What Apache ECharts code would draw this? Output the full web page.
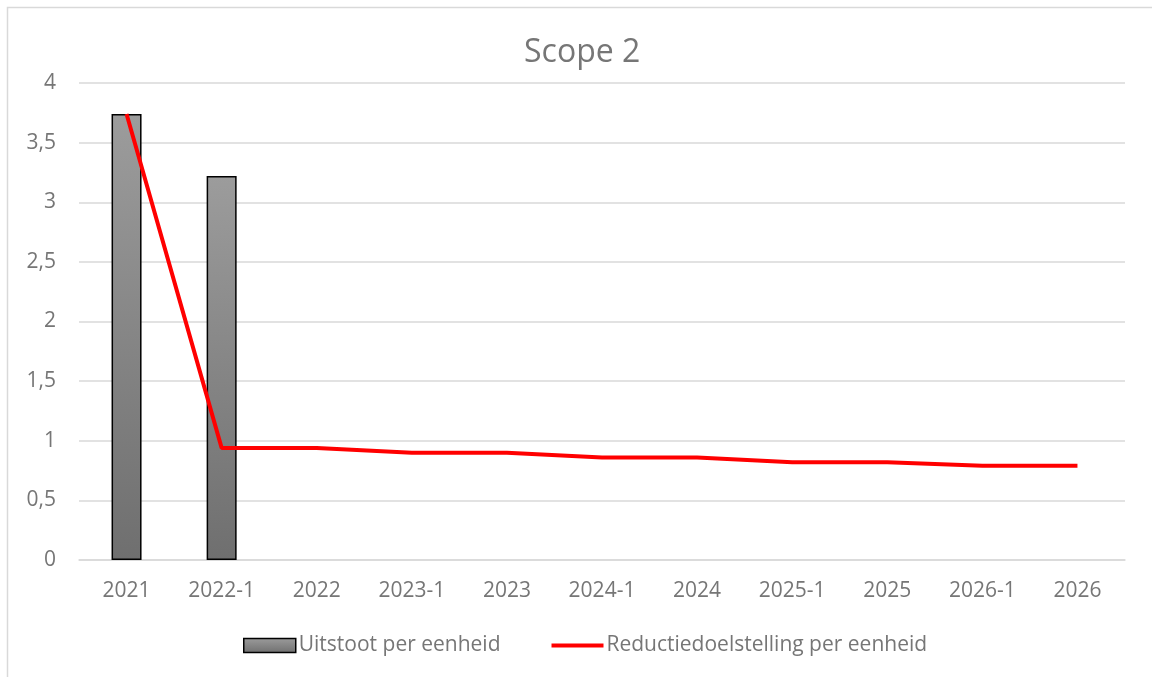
<!DOCTYPE html>
<html>
<head>
<meta charset="utf-8">
<script src="https://cdn.jsdelivr.net/npm/echarts@6/dist/echarts.min.js"></script>
<style>
html,body{margin:0;padding:0;background:#fff;}
#chart{width:1152px;height:677px;}
</style>
</head>
<body>
<div id="chart"></div>
<script>
const categories = ['2021','2022-1','2022','2023-1','2023','2024-1','2024','2025-1','2025','2026-1','2026'];
const uitstoot = [3.74, 3.22, null, null, null, null, null, null, null, null, null];
const reductie = [3.74, 0.94, 0.94, 0.90, 0.90, 0.86, 0.86, 0.82, 0.82, 0.79, 0.79];
const titleText = 'Scope 2';
const seriesNames = ['Uitstoot per eenheid', 'Reductiedoelstelling per eenheid'];

const font = '"Open Sans", "Noto Sans", sans-serif';
const barGradient = {type:'linear',x:0,y:0,x2:0,y2:1,colorStops:[{offset:0,color:'#9c9c9c'},{offset:1,color:'#6f6f6f'}]};
const chart = echarts.init(document.getElementById('chart'), null, {renderer: 'canvas'});
chart.setOption({
  animation: false,
  backgroundColor: '#ffffff',
  graphic: [{
    type: 'rect',
    shape: {x: 7.5, y: 7.5, width: 1170, height: 700},
    style: {fill: 'none', stroke: '#d9d9d9', lineWidth: 1.5},
    silent: true
  }],
  title: {
    text: titleText,
    left: 519,
    top: 32,
    textStyle: {fontFamily: font, fontSize: 32, fontWeight: 'normal', color: '#767676'}
  },
  grid: {left: 79, right: 27, top: 83, bottom: 117, containLabel: false},
  legend: {
    left: 238,
    top: 630,
    itemWidth: 52,
    itemHeight: 14,
    itemGap: 49,
    textStyle: {fontFamily: font, fontSize: 21, color: '#767676', padding: [0,0,0,-2]},
    data: [
      {name: seriesNames[0], icon: 'rect', itemStyle: {color: barGradient, borderColor: '#000', borderWidth: 1.5}},
      {name: seriesNames[1], itemStyle: {color: 'rgba(0,0,0,0)', borderWidth: 0, opacity: 0}, lineStyle: {color: '#ff0000', width: 4}}
    ]
  },
  xAxis: {
    type: 'category',
    data: categories,
    axisLine: {lineStyle: {color: '#d9d9d9', width: 1.5}},
    axisTick: {show: false},
    axisLabel: {fontFamily: font, fontSize: 21, color: '#767676', margin: 21}
  },
  yAxis: {
    type: 'value',
    min: 0,
    max: 4,
    interval: 0.5,
    axisLine: {show: false},
    axisTick: {show: false},
    splitLine: {lineStyle: {color: '#d9d9d9', width: 1.5}},
    axisLabel: {
      fontFamily: font, fontSize: 21, color: '#767676', margin: 23,
      formatter: v => String(v).replace('.', ',')
    }
  },
  series: [
    {
      name: seriesNames[0],
      type: 'bar',
      data: uitstoot,
      barWidth: 30,
      itemStyle: {color: barGradient, borderColor: '#000', borderWidth: 1.5}
    },
    {
      name: seriesNames[1],
      type: 'line',
      data: reductie,
      symbol: 'none',
      lineStyle: {color: '#ff0000', width: 4},
      itemStyle: {color: '#ff0000'},
      z: 5
    }
  ]
});
</script>
</body>
</html>
